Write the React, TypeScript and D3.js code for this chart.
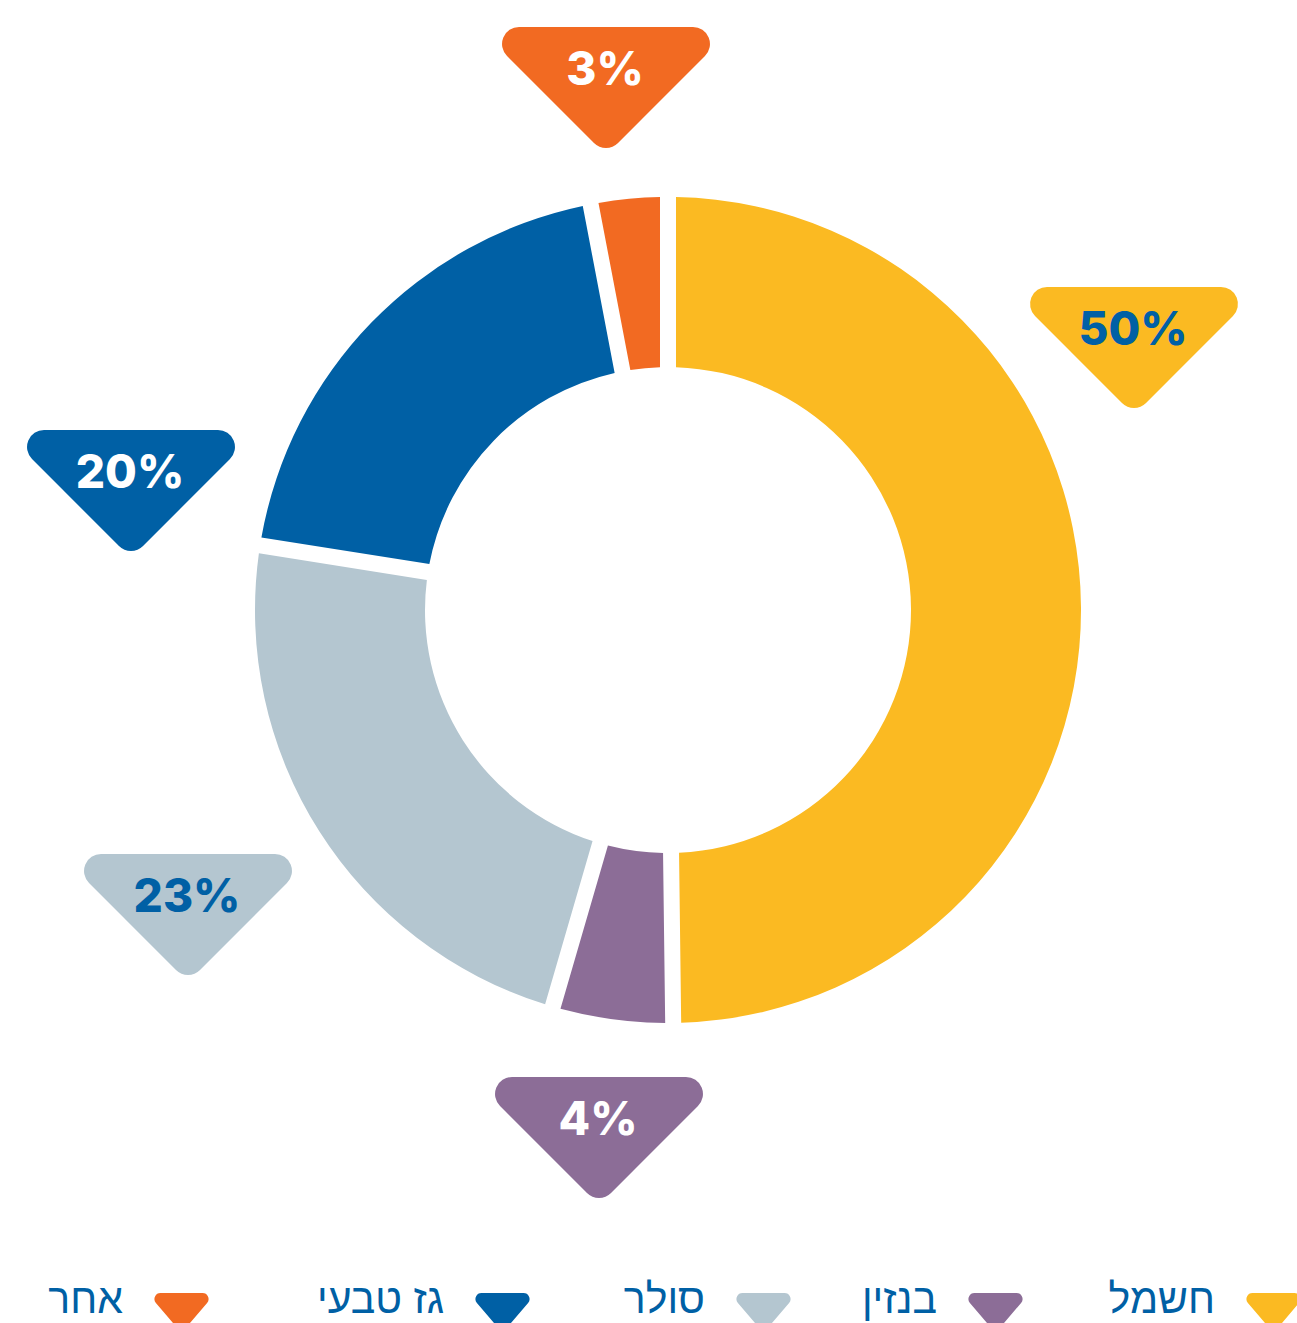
import React, { useMemo } from "react";
import * as d3 from "d3";

// category names (legend, right to left) and their shares
const categories = ["חשמל", "בנזין", "סולר", "גז טבעי", "אחר"];
const shares = [49.8, 4.7, 23.0, 19.5, 3.0];
const shareLabels = ["50%", "4%", "23%", "20%", "3%"];
const colors = ["#FBBA22", "#8C6D97", "#B4C6D0", "#0060A5", "#F26A22"];
const labelInk = ["#0060A5", "#FFFFFF", "#0060A5", "#FFFFFF", "#FFFFFF"];

// callout placement (centre x of the top edge, top y)
const calloutPos = [
  [1134, 287],
  [599, 1077],
  [188, 854],
  [131, 430],
  [606, 27],
];
// legend triangle left edges
const legendX = [1243, 965, 733, 472, 151];

const W = 1297;
const H = 1323;
const cx = 668;
const cy = 610;
const rOuter = 413;
const rInner = 243;

function roundedTriangle(x: number, top: number, half: number, height: number, r: number) {
  const p = d3.path();
  const tl = [x - half, top];
  const tr = [x + half, top];
  const ap = [x, top + height];
  p.moveTo(x, top);
  p.arcTo(tr[0], tr[1], ap[0], ap[1], r);
  p.arcTo(ap[0], ap[1], tl[0], tl[1], r);
  p.arcTo(tl[0], tl[1], tr[0], tr[1], r);
  p.closePath();
  return p.toString();
}

export default function App() {
  const arcs = useMemo(() => {
    const pie = d3.pie<number>().sort(null).value(d => d).startAngle(0).endAngle(2 * Math.PI);
    return pie(shares);
  }, []);

  const arc = d3.arc<d3.PieArcDatum<number>>()
    .innerRadius(rInner)
    .outerRadius(rOuter)
    .padRadius(rOuter)
    .padAngle(16 / rOuter);

  return (
    <svg width={W} height={H} style={{ position: "absolute", left: 0, top: 0, background: "#fff" }}>
      <g transform={`translate(${cx},${cy})`}>
        {arcs.map((a, i) => (
          <path key={i} d={arc(a) || ""} fill={colors[i]} />
        ))}
      </g>

      {/* callouts */}
      {shareLabels.map((lab, i) => {
        const [x, top] = calloutPos[i];
        return (
          <g key={"c" + i}>
            <path d={roundedTriangle(x, top, 128, 128, 17)} fill={colors[i]} />
            <text x={x - 1} y={top + 58} textAnchor="middle" fill={labelInk[i]}
              style={{ fontFamily: "Inter, 'Open Sans', sans-serif", fontWeight: 800, fontSize: 46 }}>
              {lab}
            </text>
          </g>
        );
      })}

      {/* legend */}
      {categories.map((name, i) => {
        const x0 = legendX[i];
        return (
          <g key={"l" + i}>
            <path d={roundedTriangle(x0 + 30.5, 1293, 34, 40, 6)} fill={colors[i]} />
            <text x={x0 - 28} y={1313} textAnchor="end" fill="#0060A5"
              style={{ fontFamily: "'Liberation Sans', 'DejaVu Sans', sans-serif", fontSize: 41 }}>
              {name}
            </text>
          </g>
        );
      })}
    </svg>
  );
}
